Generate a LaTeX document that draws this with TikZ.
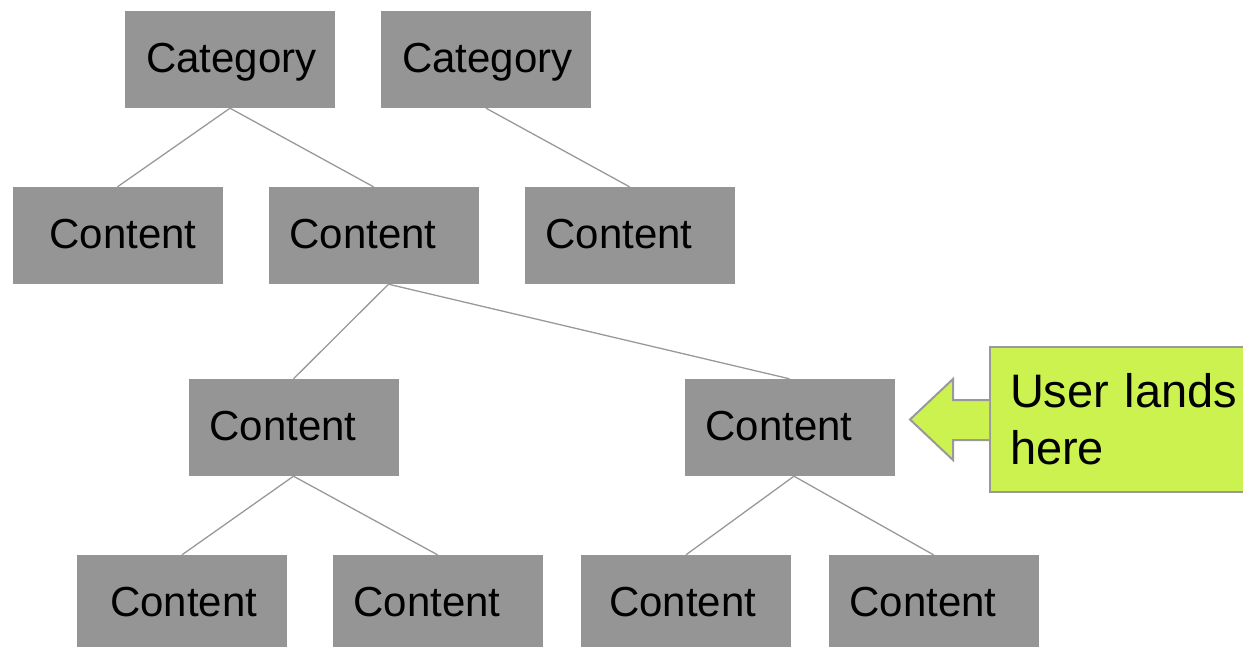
\documentclass[tikz,border=0pt]{standalone}
\usepackage{fontspec}
\setmainfont{Liberation Sans}
\usetikzlibrary{calc}
\definecolor{boxgray}{HTML}{959595}
\definecolor{linegray}{HTML}{999999}
\definecolor{lime}{HTML}{CCF24F}
\begin{document}
\begin{tikzpicture}[x=1pt,y=-1pt,
  box/.style={fill=boxgray, inner xsep=21pt, inner ysep=0pt, text width=168pt,
    minimum height=97pt, align=left, text height=26pt, text depth=0pt,
    font=\fontsize{42}{50}\selectfont},
  link/.style={draw=linegray, line width=1.3pt},
  note/.style={fill=lime, draw=linegray, line width=2pt, inner xsep=20pt,
    text width=250pt, minimum height=145pt, align=left,
    font=\fontsize{47}{57}\selectfont}]

  \useasboundingbox (0,0) rectangle (1243,647);

  % --- tree boxes: name / centre x / centre y / text ---
  \foreach \n/\x/\y/\txt in {%
    cat1/230/59.5/Category,
    cat2/486/59.5/Category,
    c1/117.5/235.5/{\hspace*{16pt}Content},
    c2/373.5/235.5/Content,
    c3/629.5/235.5/Content,
    c4/293.5/427.5/Content,
    c5/789.5/427.5/Content,
    c6/182/603.5/{\hspace*{12pt}Content},
    c7/437.5/603.5/Content,
    c8/686/603.5/{\hspace*{7pt}Content},
    c9/933.5/603.5/Content
  } {
    \node[box] (\n) at (\x,\y) {\txt};
  }

  % --- connectors (parent / child / shift of the start point) ---
  \foreach \a/\b/\dx in {cat1/c1/0, cat1/c2/0, cat2/c3/0, c2/c4/15, c2/c5/15,
                         c4/c6/0, c4/c7/0, c5/c8/4.5, c5/c9/4.5}
    \draw[link] ([xshift=\dx pt]\a.south) -- (\b.north);

  % --- callout with arrow pointing at c5 ---
  \node[note, anchor=west] (lands) at (989,419.5) {User lands\\here};
  \filldraw[fill=lime, draw=linegray, line width=2pt, line join=miter]
    ($(lands.west)+(0,-19.5)$) -- ++(-36,0) -- ++(0,-21) -- (910,419.5)
    -- ($(lands.west)+(-36,40.5)$) -- ++(0,-20) -- ++(36,0);

\end{tikzpicture}
\end{document}
